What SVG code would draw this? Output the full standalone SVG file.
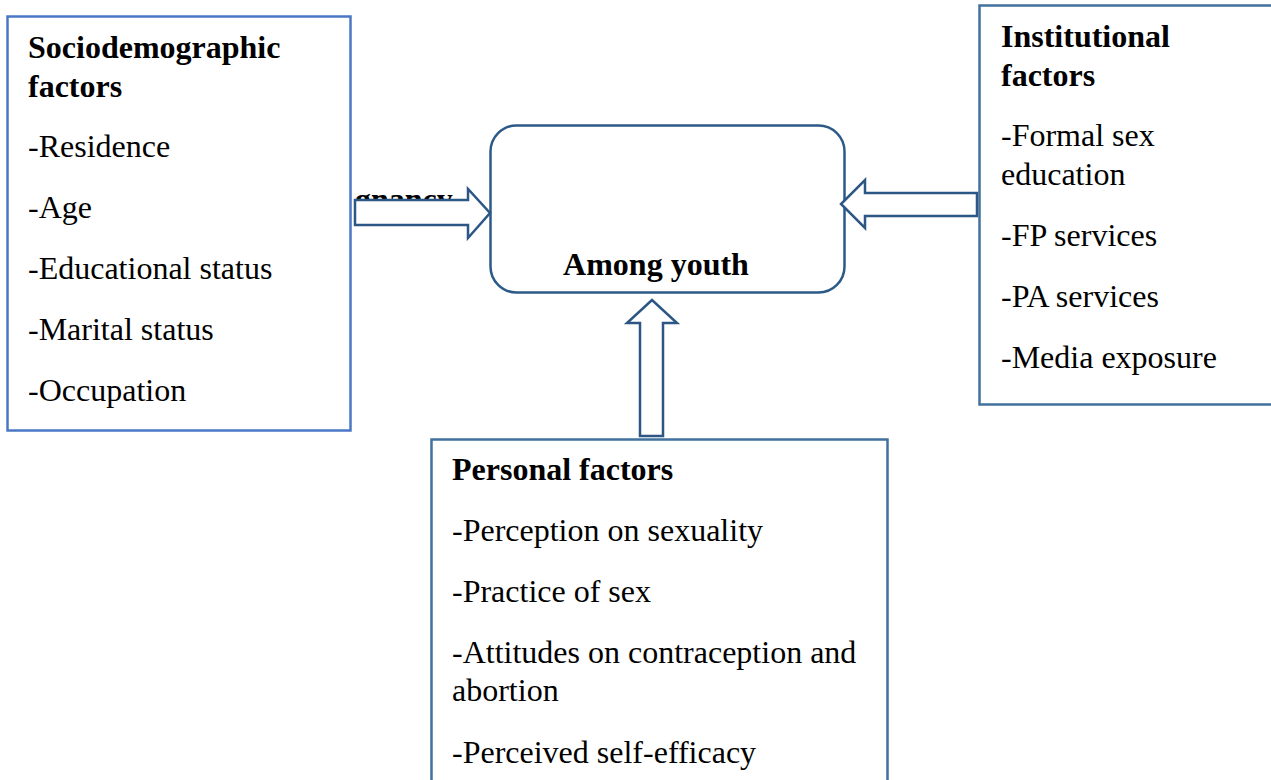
<svg xmlns="http://www.w3.org/2000/svg" width="1271" height="780" viewBox="0 0 1271 780">
<style>
.t{font-family:"Liberation Serif","Times New Roman",serif;font-size:32px;fill:#000}
.b{font-weight:bold}
.box{fill:#fff;stroke:#41719C;stroke-width:2.5}
.arr{fill:#fff;stroke:#2C5684;stroke-width:2.5;stroke-linejoin:miter}
</style>
<rect width="1271" height="780" fill="#fff"/>
<g id="sociodemographic">
<rect x="7.5" y="16.5" width="343" height="414" class="box" style="stroke:#4A78C6"/>
<text class="t b" x="28" y="58">Sociodemographic</text>
<text class="t b" x="28" y="97">factors</text>
<text class="t" x="28" y="157">-Residence</text>
<text class="t" x="28" y="218">-Age</text>
<text class="t" x="28" y="279">-Educational status</text>
<text class="t" x="28" y="340">-Marital status</text>
<text class="t" x="28" y="401">-Occupation</text>
</g>
<g id="institutional">
<rect x="979.5" y="5.5" width="300" height="399" class="box"/>
<text class="t b" x="1001" y="47">Institutional</text>
<text class="t b" x="1001" y="86">factors</text>
<text class="t" x="1001" y="146">-Formal sex</text>
<text class="t" x="1001" y="185">education</text>
<text class="t" x="1001" y="246">-FP services</text>
<text class="t" x="1001" y="307">-PA services</text>
<text class="t" x="1001" y="368">-Media exposure</text>
</g>
<g id="personal">
<rect x="431.5" y="439.5" width="456" height="360" class="box"/>
<text class="t b" x="452" y="480">Personal factors</text>
<text class="t" x="452" y="541">-Perception on sexuality</text>
<text class="t" x="452" y="602">-Practice of sex</text>
<text class="t" x="452" y="663">-Attitudes on contraception and</text>
<text class="t" x="452" y="701">abortion</text>
<text class="t" x="452" y="763">-Perceived self-efficacy</text>
</g>
<g id="outcome">
<rect x="490.5" y="125.5" width="354" height="167" rx="26" ry="26" fill="#fff" stroke="#2C5A88" stroke-width="2.5"/>
<text class="t b" x="656" y="275" text-anchor="middle">Among youth</text>
</g>
<text class="t b" x="355" y="210">gnancy</text>
<g id="connectors">
<polygon class="arr" points="355,200 468,200 468,189 490,213 468,238 468,225 355,225"/>
<polygon class="arr" points="977,193 865,193 865,180 841,204 865,228 865,216 977,216"/>
<polygon class="arr" points="640,436 640,323 627,323 652,300 677,323 663,323 663,436"/>
</g>
</svg>
